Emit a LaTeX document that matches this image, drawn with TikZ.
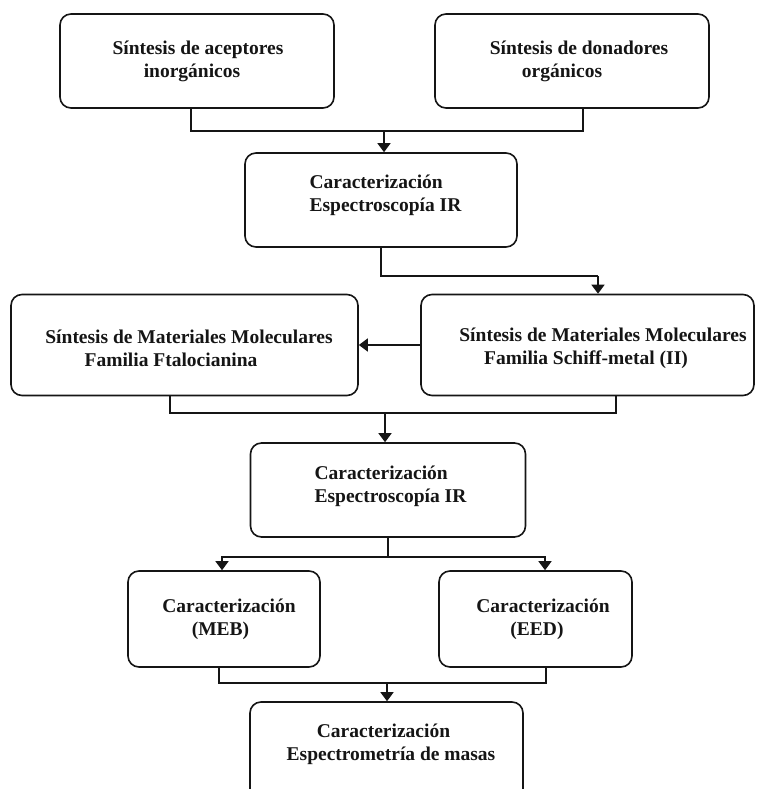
\documentclass[tikz,border=0pt]{standalone}
\usepackage{fontspec}
\setmainfont{Liberation Serif}
\usetikzlibrary{arrows.meta}
\definecolor{ink}{HTML}{151515}
\begin{document}
\begin{tikzpicture}[x=1pt,y=-1pt,
  box/.style={draw=ink,line width=1.6pt,rounded corners=11pt,fill=white,
    inner sep=0pt},
  txt/.style={align=center,inner sep=0pt,text=ink,
    font=\bfseries\fontsize{19.5}{23}\selectfont},
  ltxt/.style={txt,align=left},
  link/.style={draw=ink,line width=1.6pt},
  arr/.style={link,-{Triangle[width=13pt,length=9pt]}}]
\useasboundingbox (0,0) rectangle (759,789);
\clip (0,0) rectangle (759,789);
\fill[white] (0,0) rectangle (759,789);

% boxes
\node[box,minimum width=274pt,minimum height=94pt]  (b1) at (197,61) {};
\node[box,minimum width=274pt,minimum height=94pt]  (b2) at (572,61) {};
\node[box,minimum width=272pt,minimum height=94pt]  (b3) at (381,200) {};
\node[box,minimum width=347pt,minimum height=101pt] (b4) at (184.5,345) {};
\node[box,minimum width=333pt,minimum height=101pt] (b5) at (587.5,345) {};
\node[box,minimum width=275pt,minimum height=94pt]  (b6) at (388,490) {};
\node[box,minimum width=192pt,minimum height=96pt]  (b7) at (224,619) {};
\node[box,minimum width=193pt,minimum height=96pt]  (b8) at (535.5,619) {};
\node[box,minimum width=273pt,minimum height=98pt]  (b9) at (386.5,751) {};

% box texts
\node[txt]  (t1) at (198,61)    {Síntesis de aceptores\\inorgánicos\hspace*{12pt}};
\node[txt]  (t2) at (579,61)    {Síntesis de donadores\\orgánicos\hspace*{34pt}};
\node[ltxt] (t3) at (385.5,195) {Caracterización\\Espectroscopía IR};
\node[txt]  (t4) at (189,348)   {Síntesis de Materiales Moleculares\\Familia Ftalocianina\hspace*{36pt}};
\node[txt]  (t5) at (603,348)   {Síntesis de Materiales Moleculares\\Familia Schiff-metal (II)\hspace*{34pt}};
\node[ltxt] (t6) at (390.5,486.5) {Caracterización\\Espectroscopía IR};
\node[txt]  (t7) at (229,619)   {Caracterización\\(MEB)\hspace*{17pt}};
\node[txt]  (t8) at (543,619)   {Caracterización\\(EED)\hspace*{12pt}};
\node[txt]  (t9) at (391,744)   {Caracterización\hspace*{15pt}\\Espectrometría de masas};

% junction points
\coordinate (j1) at (384,131);
\coordinate (j2) at (598,276);
\coordinate (j3) at (385,413);
\coordinate (j4) at (388,557);
\coordinate (j5) at (387,683);

% connectors
\draw[link] ([xshift=-6]b1.south) |- (j1) -| ([xshift=11]b2.south);
\draw[arr] (j1) -- (j1 |- b3.north);
\draw[link] (b3.south) |- (j2);
\draw[arr] (j2) -- (j2 |- b5.north);
\draw[arr] (b5.west) -- (b4.east);
\draw[link] ([xshift=-14.5]b4.south) |- (j3) -| ([xshift=28.5]b5.south);
\draw[arr] (j3) -- (j3 |- b6.north);
\draw[link] (b6.south) -- (j4);
\draw[arr] (j4) -| ([xshift=-2]b7.north);
\draw[arr] (j4) -| ([xshift=9.5]b8.north);
\draw[link] ([xshift=-5]b7.south) |- (j5) -| ([xshift=10.5]b8.south);
\draw[arr] (j5) -- (j5 |- b9.north);
\end{tikzpicture}
\end{document}
